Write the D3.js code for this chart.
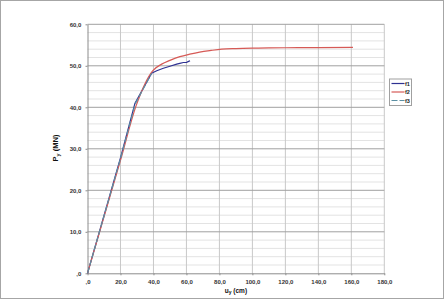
<!DOCTYPE html>
<html>
<head>
<meta charset="utf-8">
<script src="https://cdn.jsdelivr.net/npm/d3@7"></script>
<style>
  body { margin: 0; background: #fff; }
  svg { display: block; font-family: "Liberation Sans", Arial, sans-serif; }
</style>
</head>
<body>
<div id="chart"></div>
<script>
// Data (u in cm, P in MN)
const f1 = [[0, 0], [20, 27.8], [28.8, 41.0], [38.9, 48.2], [42, 48.8], [46, 49.4], [50, 49.9],
            [54.1, 50.4], [56, 50.6], [58.1, 50.8], [60, 50.8], [61, 51.0], [62.2, 51.2]];
const f2 = [[0, 0], [20, 27.2], [29.5, 40.4], [39.5, 48.8], [45, 50.4], [50, 51.3], [56, 52.2],
            [62, 52.8], [68, 53.3], [75, 53.7], [81.4, 54.0], [90, 54.15], [100, 54.25],
            [110, 54.3], [120, 54.35], [140, 54.4], [161, 54.45]];
const f3 = [[0, 0], [20, 27.6], [28.9, 40.8], [38.9, 48.2]];
const seriesNames = ['f1', 'f2', 'f3'];
const seriesColors = ['#2e3192', '#d65a56', '#5b8fa3'];
const xTicks = [0, 20, 40, 60, 80, 100, 120, 140, 160, 180];
const yTicks = [0, 10, 20, 30, 40, 50, 60];
const yMinor = d3.range(0, 61, 2);

const width = 444, height = 299;
const margin = { left: 87.5, right: 59.7, top: 24.3, bottom: 25.7 };
const iw = width - margin.left - margin.right;
const ih = height - margin.top - margin.bottom;

const svg = d3.select('#chart').append('svg')
    .attr('width', width)
    .attr('height', height);

// outer frame
svg.append('rect')
    .attr('x', 0.5).attr('y', 0.5)
    .attr('width', width - 1).attr('height', height - 1)
    .attr('fill', '#fff').attr('stroke', '#a6a6a6');

const g = svg.append('g').attr('transform', `translate(${margin.left},${margin.top})`);

const x = d3.scaleLinear().domain([0, 180]).range([0, iw]);
const y = d3.scaleLinear().domain([0, 60]).range([ih, 0]);

const fmt = v => v === 0 ? ',0' : d3.format('.1f')(v).replace('.', ',');

// minor horizontal grid
g.append('g').selectAll('line')
    .data(yMinor.filter(v => v % 10 !== 0))
    .join('line')
    .attr('x1', 0).attr('x2', iw)
    .attr('y1', d => y(d)).attr('y2', d => y(d))
    .attr('stroke', '#e3e3e3').attr('stroke-width', 1);

// vertical grid
g.append('g').selectAll('line')
    .data(xTicks.slice(1))
    .join('line')
    .attr('x1', d => x(d)).attr('x2', d => x(d))
    .attr('y1', 0).attr('y2', ih)
    .attr('stroke', '#c8c8c8').attr('stroke-width', 1);

// major horizontal grid
g.append('g').selectAll('line')
    .data(yTicks.slice(1))
    .join('line')
    .attr('x1', 0).attr('x2', iw)
    .attr('y1', d => y(d)).attr('y2', d => y(d))
    .attr('stroke', '#a0a0a0').attr('stroke-width', 1);

// axes
const xAxis = g.append('g')
    .attr('transform', `translate(0,${ih})`)
    .call(d3.axisBottom(x).tickValues(xTicks).tickFormat(fmt).tickSize(2).tickSizeOuter(0));
const yAxis = g.append('g')
    .call(d3.axisLeft(y).tickValues(yTicks).tickFormat(fmt).tickSize(2).tickSizeOuter(0));

[xAxis, yAxis].forEach(a => {
    a.select('.domain').attr('stroke', '#8c8c8c');
    a.selectAll('.tick line').attr('stroke', '#8c8c8c');
    a.selectAll('.tick text')
        .attr('font-size', '6px')
        .attr('font-weight', 'bold')
        .attr('fill', '#333');
});
xAxis.selectAll('.tick text').attr('dy', '0.9em');
yAxis.selectAll('.tick text').attr('dx', '-0.2em');

// curves
const line = d3.line().x(d => x(d[0])).y(d => y(d[1]));
const smooth = d3.line().x(d => x(d[0])).y(d => y(d[1])).curve(d3.curveMonotoneX);
[f1, f2, f3].forEach((s, i) => {
    g.append('path')
        .datum(s)
        .attr('d', i === 1 ? smooth : line)
        .attr('fill', 'none')
        .attr('stroke', seriesColors[i])
        .attr('stroke-width', 1.2)
        .attr('stroke-dasharray', i === 2 ? '6,2' : null);
});

// axis titles
const yt = svg.append('text')
    .attr('transform', `translate(58,148) rotate(-90)`)
    .attr('text-anchor', 'middle')
    .attr('font-size', '7.5px')
    .attr('font-weight', 'bold')
    .attr('fill', '#111');
yt.append('tspan').text('P');
yt.append('tspan').attr('font-size', '5.5px').attr('dy', '1.5').text('y');
yt.append('tspan').attr('dy', '-1.5').text(' (MN)');

const xt = svg.append('text')
    .attr('x', margin.left + iw / 2)
    .attr('y', 293)
    .attr('text-anchor', 'middle')
    .attr('font-size', '6.5px')
    .attr('font-weight', 'bold')
    .attr('fill', '#111');
xt.append('tspan').text('u');
xt.append('tspan').attr('font-size', '5px').attr('dy', '1.2').text('y');
xt.append('tspan').attr('dy', '-1.2').text(' (cm)');

// legend
const lg = svg.append('g').attr('transform', 'translate(389.5,79)');
lg.append('rect')
    .attr('width', 22).attr('height', 26.5)
    .attr('fill', '#fff').attr('stroke', '#a0a0a0');
seriesNames.forEach((n, i) => {
    const yy = 4.5 + i * 8.5;
    lg.append('line')
        .attr('x1', 2).attr('x2', 15)
        .attr('y1', yy).attr('y2', yy)
        .attr('stroke', seriesColors[i]).attr('stroke-width', 1.2)
        .attr('stroke-dasharray', i === 2 ? '6,2' : null);
    lg.append('text')
        .attr('x', 15.5).attr('y', yy + 2)
        .attr('font-size', '5.5px')
        .attr('font-weight', 'bold')
        .attr('fill', '#222')
        .text(n);
});
</script>
</body>
</html>
